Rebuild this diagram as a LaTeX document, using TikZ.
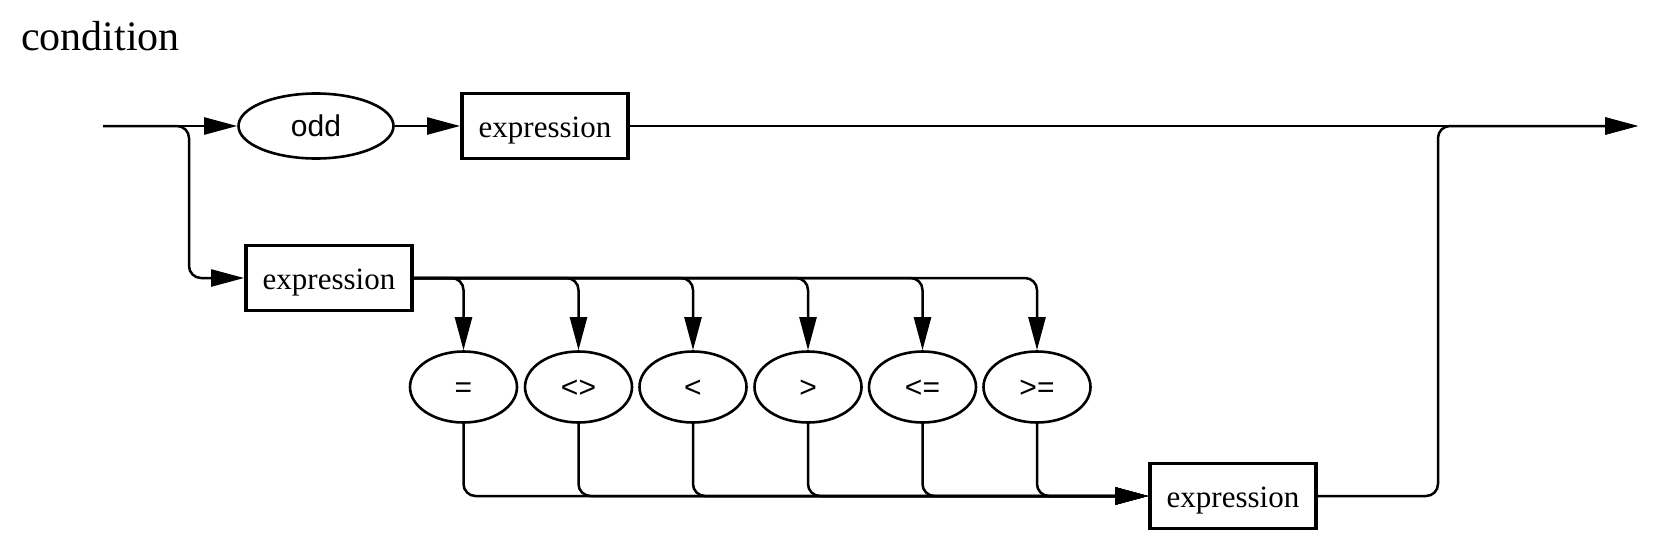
\documentclass[tikz,border=0pt]{standalone}
\usepackage{fontspec}
\setmainfont{Liberation Serif}
\newfontfamily\sansf{Liberation Sans}
\usetikzlibrary{arrows.meta,shapes.geometric}
\begin{document}
\begin{tikzpicture}[x=1pt,y=-1pt,
  conn/.style={line width=2.5pt, rounded corners=12pt},
  arr/.style={-{Triangle[length=33pt,width=17pt]}},
  nt/.style={draw, line width=3.8pt, minimum width=166pt, minimum height=65pt, inner sep=0pt, text height=22pt, text depth=0pt, font=\fontsize{31}{36}\selectfont},
  tm/.style={draw, ellipse, line width=2.6pt, inner sep=0pt, minimum width=107pt, minimum height=71pt, text height=21pt, text depth=0pt, font=\sansf\fontsize{30}{36}\selectfont},
]
\useasboundingbox (0,0) rectangle (1662,552);
\node[anchor=base west, inner sep=0pt, font=\fontsize{42}{48}\selectfont] (title) at (21,50) {condition};
\coordinate (start) at (103,126);
\coordinate (end) at (1638,126);
\coordinate (br) at (189,200);
\coordinate (rv) at (1438,300);
\node[tm, minimum width=155pt, minimum height=65pt] (odd) at (316,126) {odd};
\node[nt] (e1) at (545,126) {expression};
\node[nt] (e2) at (329,278) {expression};
\node[nt] (e3) at (1233,496) {expression};
\node[tm] (o1) at (463.5,387) {=};
\node[tm] (o2) at (578.5,387) {<>};
\node[tm] (o3) at (693,387) {<};
\node[tm] (o4) at (808,387) {>};
\node[tm] (o5) at (922.5,387) {<=};
\node[tm] (o6) at (1037,387) {>=};
\draw[conn,arr] (start) -- (odd);
\draw[conn,arr] (odd) -- (e1);
\draw[conn,arr] (e1) -- (end);
\draw[conn,arr] (start) -| (br) |- (e2.west);
\foreach \o in {o1,o2,o3,o4,o5,o6}{
  \draw[conn,arr] (e2.east) -| (\o.north);
  \draw[conn,arr] (\o.south) |- (e3.west);
}
\draw[conn,arr] (e3.east) -| (rv) |- (end);
\end{tikzpicture}
\end{document}
